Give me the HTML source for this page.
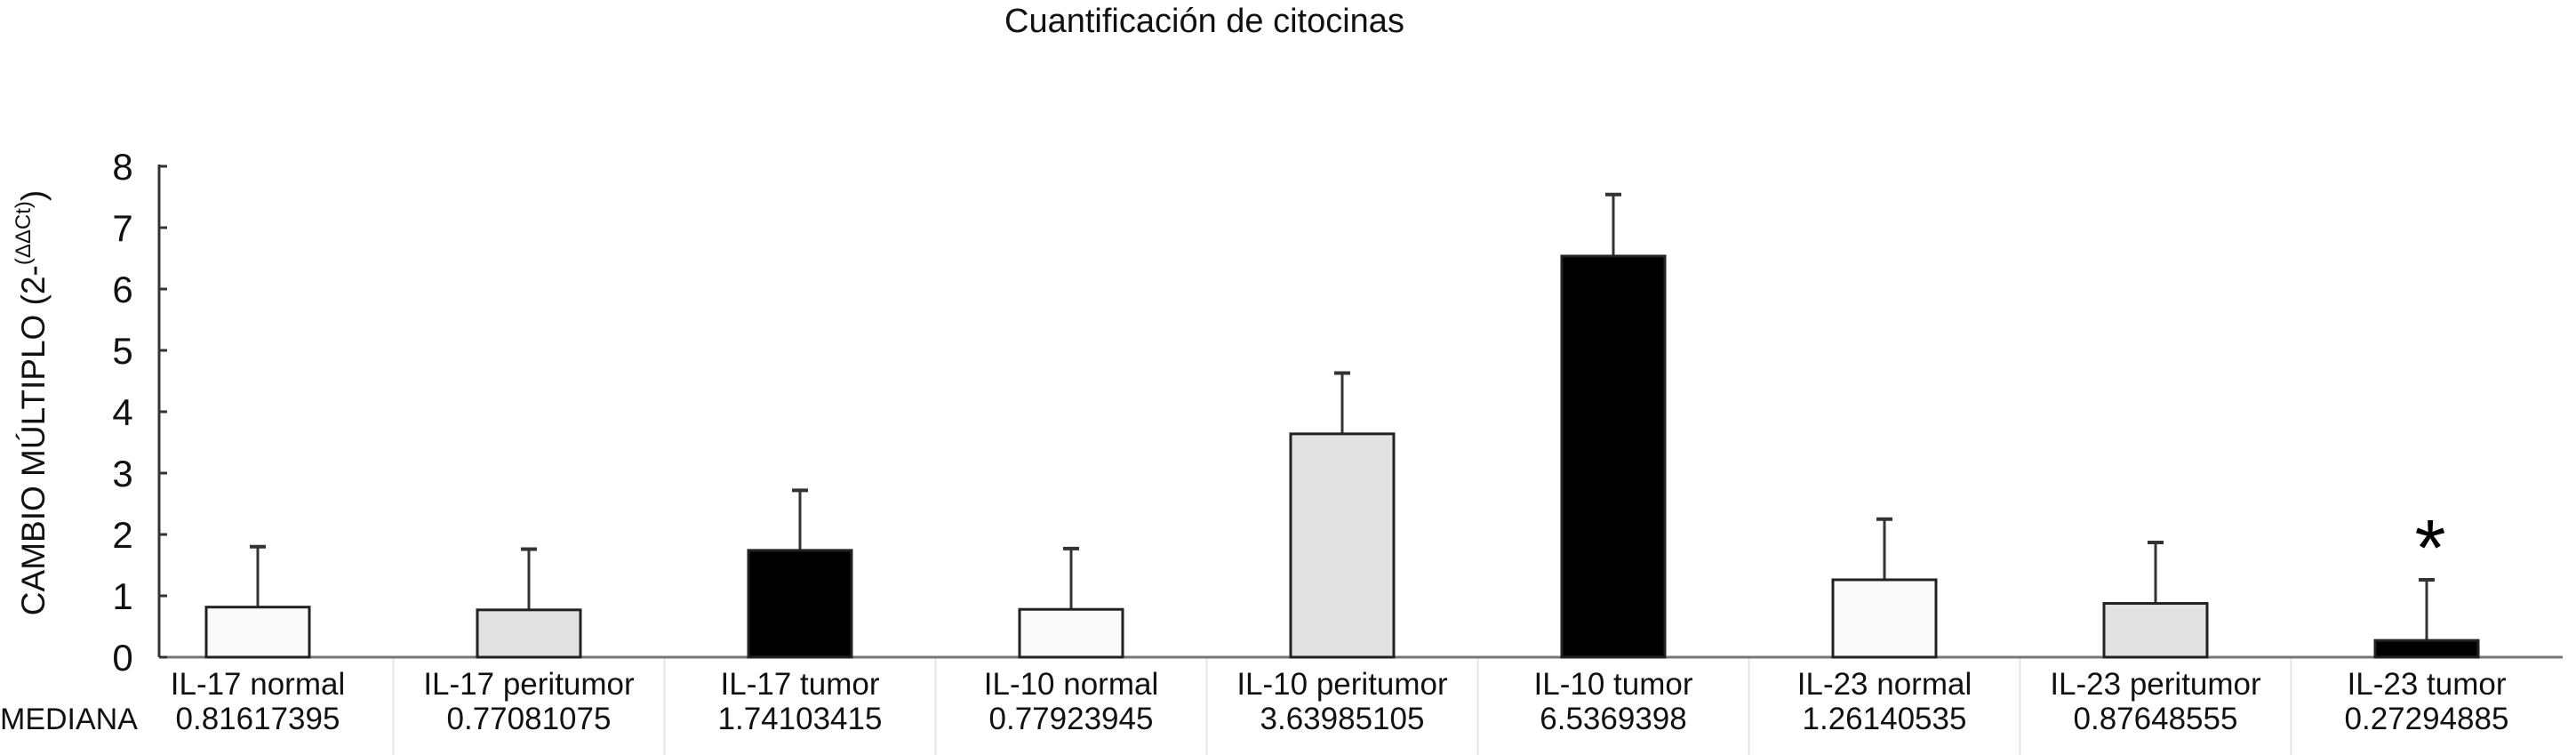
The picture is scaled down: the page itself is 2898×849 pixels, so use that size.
<!DOCTYPE html>
<html><head><meta charset="utf-8">
<style>
html,body{margin:0;padding:0;background:#fff;}
svg{display:block;font-family:"Liberation Sans",sans-serif;}
</style></head>
<body>
<svg id="chart" width="2898" height="849" viewBox="0 0 2898 849" xmlns="http://www.w3.org/2000/svg">
<text x="1355" y="36" font-size="38" text-anchor="middle" fill="#111">Cuantificación de citocinas</text>
<text transform="translate(50,453) rotate(-90)" font-size="37" text-anchor="middle" fill="#111">CAMBIO MÚLTIPLO (2-<tspan font-size="24" dy="-16">(ΔΔCt)</tspan><tspan dy="16">)</tspan></text>
<text x="0" y="820" font-size="34" fill="#111">MEDIANA</text>
<g id="axes"></g>
<g id="marks"></g>
</svg>
<script>
const categories = ["IL-17 normal","IL-17 peritumor","IL-17 tumor","IL-10 normal","IL-10 peritumor","IL-10 tumor","IL-23 normal","IL-23 peritumor","IL-23 tumor"];
const medianLabels = ["0.81617395","0.77081075","1.74103415","0.77923945","3.63985105","6.5369398","1.26140535","0.87648555","0.27294885"];
const medians = [0.81617395,0.77081075,1.74103415,0.77923945,3.63985105,6.5369398,1.26140535,0.87648555,0.27294885];
const errorTops = [1.8,1.76,2.72,1.77,4.63,7.54,2.25,1.87,1.26];
const fillTypes = ["normal","peritumor","tumor","normal","peritumor","tumor","normal","peritumor","tumor"];
const yTicks = [0,1,2,3,4,5,6,7,8];
const significant = [false,false,false,false,false,false,false,false,true];

const NS="http://www.w3.org/2000/svg";
const x0=179, y0=739, unit=69, slot=305, firstCenter=290, barW=116;
function yScale(v){return y0 - v*unit;}
function xCenter(i){return firstCenter + i*slot;}
const fills={normal:"#fafafa",peritumor:"#e2e2e2",tumor:"#000"};
function mk(tag,attrs,parent){const e=document.createElementNS(NS,tag);for(const k in attrs)e.setAttribute(k,attrs[k]);parent.appendChild(e);return e;}
const axes=document.getElementById('axes'), marks=document.getElementById('marks');

for(let i=0;i<categories.length-1;i++){
  const xd=(xCenter(i)+xCenter(i+1))/2;
  const d=mk('line',{x1:xd,x2:xd,y1:y0,y2:849,stroke:"#e4e4e4","stroke-width":2},axes);
  
  
}
const ya=mk('line',{x1:x0,x2:x0,y1:yScale(8)-2,y2:y0,stroke:"#333","stroke-width":3},axes);


const xa=mk('line',{x1:x0,x2:2883,y1:y0,y2:y0,stroke:"#777","stroke-width":3},axes);


yTicks.forEach(t=>{
  const tk=mk('line',{x1:x0,x2:x0+9,y1:yScale(t),y2:yScale(t),stroke:"#333","stroke-width":3},axes);
  
  
  const tl=mk('text',{x:138,y:yScale(t)+15,"font-size":42,"text-anchor":"middle",fill:"#111"},axes);
  tl.textContent=t;
  
  
});
categories.forEach((c,i)=>{
  const cx=xCenter(i);
  const eb=mk('line',{x1:cx,x2:cx,y1:yScale(errorTops[i]),y2:yScale(medians[i]),stroke:"#333","stroke-width":3},marks);
  
  
  const cap=mk('line',{x1:cx-9,x2:cx+9,y1:yScale(errorTops[i]),y2:yScale(errorTops[i]),stroke:"#333","stroke-width":4},marks);
  
  
  const b=mk('rect',{x:cx-barW/2,y:yScale(medians[i]),width:barW,height:y0-yScale(medians[i]),fill:fills[fillTypes[i]],stroke:"#222","stroke-width":3},marks);
  
  
  const l=mk('text',{x:cx,y:781,"font-size":35,"text-anchor":"middle",fill:"#111"},marks);
  l.textContent=c;
  
  
  const m=mk('text',{x:cx,y:820,"font-size":35,"text-anchor":"middle",fill:"#111"},marks);
  m.textContent=medianLabels[i];
  
  
  if(significant[i]){
    const s=mk('text',{x:cx+4,y:yScale(errorTops[i])-5,"font-size":90,"text-anchor":"middle",fill:"#000"},marks);
    s.textContent="*";
    
    
  }
});
</script>
</body></html>
